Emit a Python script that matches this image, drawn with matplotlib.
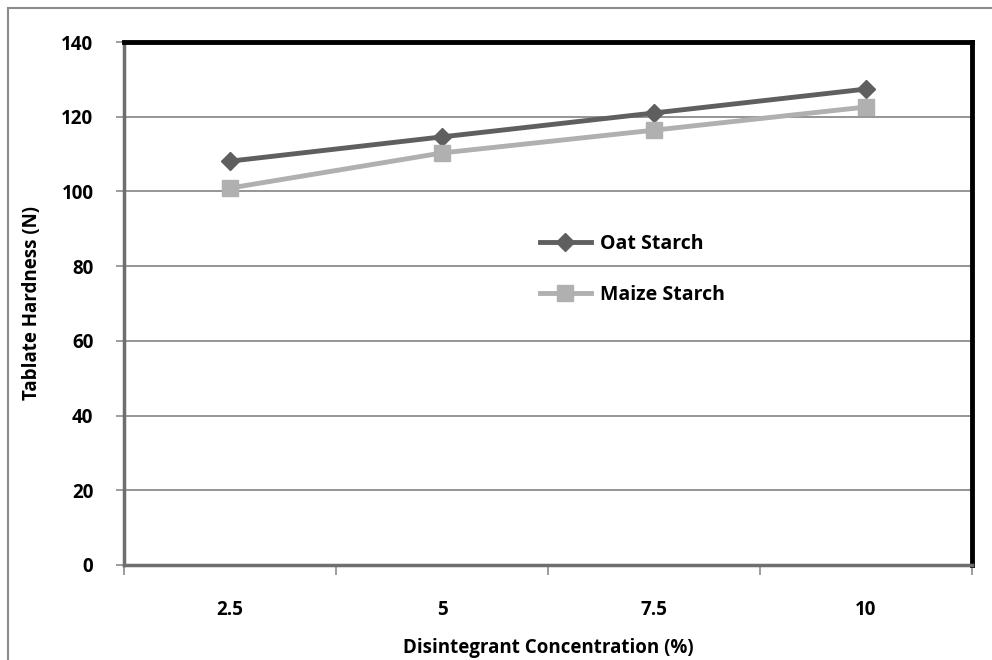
import matplotlib.pyplot as plt
from matplotlib.patches import Rectangle

# Data
concentration = ['2.5', '5', '7.5', '10']
oat_starch = [108.1, 114.6, 121.0, 127.4]
maize_starch = [100.9, 110.3, 116.4, 122.6]

plt.rcParams['font.family'] = ['Open Sans', 'DejaVu Sans']
plt.rcParams['font.weight'] = 'bold'

fig = plt.figure(figsize=(9.92, 6.6), dpi=100)
ax = fig.add_axes([124 / 992, 1 - 565 / 660, 848 / 992, 523 / 660])

x = list(range(len(concentration)))
ax.plot(x, oat_starch, color='#5f5f5f', lw=3.5, marker='D', ms=9,
        label='Oat Starch')
ax.plot(x, maize_starch, color='#b0b0b0', lw=3.5, marker='s', ms=11,
        label='Maize Starch')

ax.set_xlim(-0.5, 3.5)
ax.set_ylim(0, 140)
ax.set_yticks(range(0, 141, 20))
ax.yaxis.grid(True, color='#8c8c8c', lw=1.3)
ax.set_axisbelow(True)

# category labels centred, tick marks on boundaries
ax.set_xticks(x)
ax.set_xticklabels(concentration, fontsize=13.5, fontweight='bold')
ax.tick_params(axis='x', which='major', length=0, pad=25)
ax.set_xticks([-0.5, 0.5, 1.5, 2.5, 3.5], minor=True)
ax.tick_params(axis='x', which='minor', length=7, color='#8c8c8c', width=1.2)
ax.tick_params(axis='y', length=6, color='#8c8c8c', width=1.2, labelsize=13.5,
               pad=16)
for lab in ax.get_yticklabels():
    lab.set_fontweight('bold')

for side in ['top', 'right']:
    ax.spines[side].set_color('black')
    ax.spines[side].set_linewidth(3.5)
for side in ['left', 'bottom']:
    ax.spines[side].set_color('#6e6e6e')
    ax.spines[side].set_linewidth(2.5)

ax.set_xlabel('Disintegrant Concentration (%)', fontsize=13.5,
              fontweight='bold', labelpad=13)
ax.set_ylabel('Tablate Hardness (N)', fontsize=13.5, fontweight='bold',
              labelpad=14)

ax.legend(loc='center left', bbox_to_anchor=(0.47, 0.565), frameon=False,
          handlelength=2.6, handletextpad=0.5, labelspacing=1.6,
          prop={'weight': 'bold', 'size': 14})

# outer chart border
fig.patches.append(Rectangle((8 / 992, -0.05), 1.2, 1 - 8 / 660 + 0.05,
                             transform=fig.transFigure, fill=False,
                             edgecolor='#8c8c8c', lw=1.5))

fig.savefig('out.png', dpi=100)
